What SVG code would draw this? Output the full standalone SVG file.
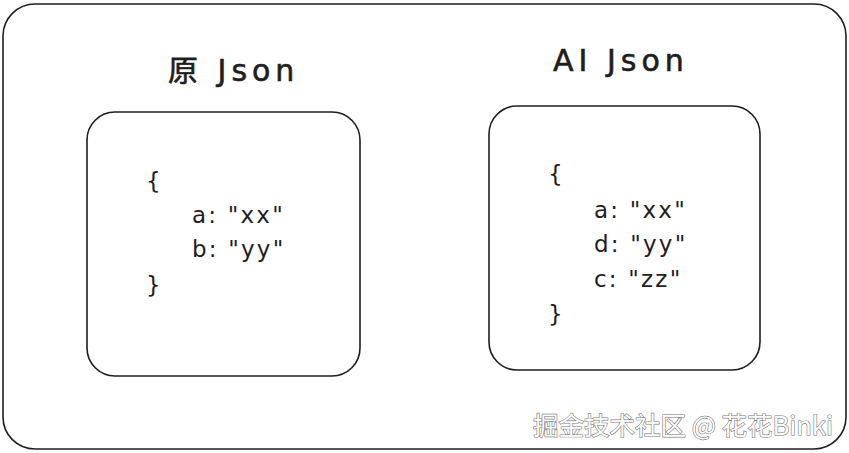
<svg xmlns="http://www.w3.org/2000/svg" width="849" height="453" viewBox="0 0 849 453">
<style>
.box{fill:#fff;stroke:#1e1e1e;stroke-width:1.6}
.title{font-family:"DejaVu Sans","Noto Sans CJK SC",sans-serif;font-size:30px;fill:#1e1e1e;letter-spacing:5px;stroke:#1e1e1e;stroke-width:0.6}
.code{font-family:"DejaVu Sans","Noto Sans CJK SC",sans-serif;font-size:23px;fill:#1e1e1e;letter-spacing:2.2px}
.wm{font-family:"Noto Sans CJK SC",sans-serif;font-size:25.5px;fill:#fff;stroke:#777;stroke-width:1.2;paint-order:stroke}
</style>
<rect width="849" height="453" fill="#fff"/>
<g id="frame"><rect class="box" x="3" y="4" width="843" height="445" rx="32"/></g>
<g id="original">
<text class="title" x="168" y="81">原 Json</text>
<rect class="box" x="87" y="112" width="273" height="264" rx="28"/>
<text class="code" x="146" y="189">{</text>
<text class="code" x="192" y="223">a: "xx"</text>
<text class="code" x="192" y="257">b: "yy"</text>
<text class="code" x="146" y="293">}</text>
</g>
<g id="ai">
<text class="title" x="553" y="71">AI Json</text>
<rect class="box" x="489" y="106" width="271" height="264" rx="28"/>
<text class="code" x="548" y="182">{</text>
<text class="code" x="594" y="218">a: "xx"</text>
<text class="code" x="594" y="252">d: "yy"</text>
<text class="code" x="594" y="287">c: "zz"</text>
<text class="code" x="548" y="322">}</text>
</g>
<g id="connectors"></g>
<text class="wm" x="533" y="435">掘金技术社区 @ 花花Binki</text>
</svg>
